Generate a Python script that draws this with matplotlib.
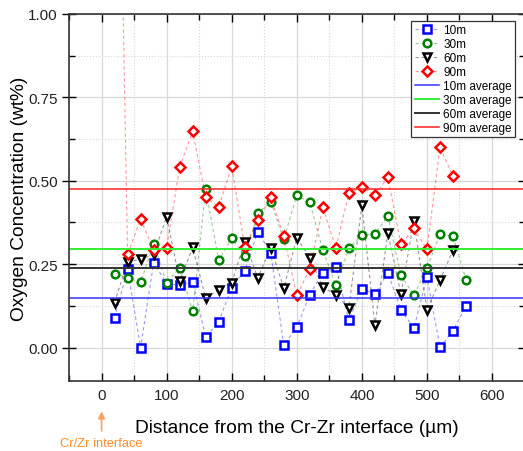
import matplotlib
matplotlib.use("Agg")
import matplotlib.pyplot as plt
from matplotlib.ticker import MultipleLocator, FormatStrFormatter

plt.rcParams["font.family"] = ["Liberation Sans", "DejaVu Sans"]

# distance from the Cr-Zr interface (um)
dist = [20, 40, 60, 80, 100, 120, 140, 160, 180, 200, 220, 240, 260, 280,
        300, 320, 340, 360, 380, 400, 420, 440, 460, 480, 500, 520, 540, 560]

o_10m = [0.089, 0.234, 0.000, 0.254, 0.192, 0.187, 0.197, 0.032, 0.077, 0.180,
         0.229, 0.347, 0.284, 0.007, 0.061, 0.159, 0.225, 0.242, 0.082, 0.177,
         0.160, 0.225, 0.112, 0.059, 0.212, 0.001, 0.050, 0.125]
o_30m = [0.222, 0.210, 0.196, 0.310, 0.194, 0.239, 0.109, 0.474, 0.262, 0.327,
         0.274, 0.402, 0.437, 0.324, 0.457, 0.435, 0.292, 0.187, 0.297, 0.337,
         0.340, 0.394, 0.217, 0.157, 0.239, 0.340, 0.334, 0.204]
o_60m = [0.135, 0.257, 0.265, 0.279, 0.392, 0.200, 0.300, 0.149, 0.172, 0.195,
         0.317, 0.209, 0.299, 0.179, 0.329, 0.269, 0.182, 0.157, 0.119, 0.427,
         0.067, 0.344, 0.160, 0.380, 0.113, 0.202, 0.292]
o_90m = [2.40, 0.279, 0.385, 0.292, 0.299, 0.540, 0.648, 0.451, 0.422, 0.543,
         0.302, 0.381, 0.450, 0.334, 0.157, 0.235, 0.420, 0.299, 0.462, 0.480,
         0.457, 0.510, 0.309, 0.357, 0.294, 0.600, 0.514]

avg_10m = 0.149
avg_30m = 0.294
avg_60m = 0.239
avg_90m = 0.474

fig = plt.figure(figsize=(5.23, 4.52), dpi=100)
ax = fig.add_axes([0.132, 0.155, 0.871, 0.812])

ax.grid(True, which="major", color="#d8d8d8", linewidth=0.9, linestyle="-", zorder=0)
ax.grid(True, which="minor", color="#d8d8d8", linewidth=0.8, linestyle=":", zorder=0)
ax.set_axisbelow(True)

mk = dict(markersize=5.5, markeredgewidth=1.8, markerfacecolor="white",
          linestyle=(0, (3, 2.5)), linewidth=0.8)
ax.plot(dist[:len(o_10m)], o_10m, marker="s", color=(0, 0, 1, 0.4),
        markeredgecolor="#0000ff", label="10m", **mk)
ax.plot(dist[:len(o_30m)], o_30m, marker="o", color=(0, 0.5, 0, 0.4),
        markeredgecolor="#008000", label="30m", **mk)
ax.plot(dist[:len(o_60m)], o_60m, marker="v", color=(0, 0, 0, 0.4),
        markeredgecolor="#000000", label="60m", **mk)
ax.plot(dist[:len(o_90m)], o_90m, marker="D", color=(1, 0, 0, 0.4),
        markeredgecolor="#ff0000", label="90m", **mk)

ax.axhline(avg_10m, color="#3333ff", linewidth=1.1, label="10m average")
ax.axhline(avg_30m, color="#33ee33", linewidth=1.4, label="30m average")
ax.axhline(avg_60m, color="#333333", linewidth=1.4, label="60m average")
ax.axhline(avg_90m, color="#ff2020", linewidth=1.1, label="90m average")

ax.set_xlim(-50, 650)
ax.set_ylim(-0.1, 1.0)
ax.xaxis.set_major_locator(MultipleLocator(100))
ax.xaxis.set_minor_locator(MultipleLocator(50))
ax.yaxis.set_major_locator(MultipleLocator(0.25))
ax.yaxis.set_minor_locator(MultipleLocator(0.125))
ax.yaxis.set_major_formatter(FormatStrFormatter("%.2f"))

ax.tick_params(which="major", direction="in", length=6, width=1, top=True, right=True,
               labelsize=11, labelcolor="#222222", pad=5)
ax.tick_params(which="minor", direction="in", length=4, width=1, top=True, right=True)
ax.tick_params(axis="y", which="major", direction="inout", length=10, pad=3)
for s in ax.spines.values():
    s.set_linewidth(1.2)
    s.set_color("#333333")

ax.set_xlabel("Distance from the Cr-Zr interface (µm)", fontsize=13.8, labelpad=12)
ax.set_ylabel("Oxygen Concentration (wt%)", fontsize=13.8, labelpad=0)

leg = ax.legend(loc="upper right", bbox_to_anchor=(0.98, 0.981), borderaxespad=0,
                fontsize=8.5, fancybox=False, framealpha=1, edgecolor="#333333",
                handlelength=2.0, labelspacing=0.16, borderpad=0.3, handletextpad=0.4)
leg.get_frame().set_linewidth(0.9)

# interface marker below the x axis
ax.annotate("", xy=(0, -0.183), xytext=(0, -0.258), xycoords="data",
            arrowprops=dict(arrowstyle="-|>", color="#ffa060", lw=1.2,
                            mutation_scale=10), annotation_clip=False)
ax.text(0, -0.287, "Cr/Zr interface", color="#ff8c2a", fontsize=9.3,
        ha="center", va="center", clip_on=False)

fig.savefig("out.png", dpi=100)
